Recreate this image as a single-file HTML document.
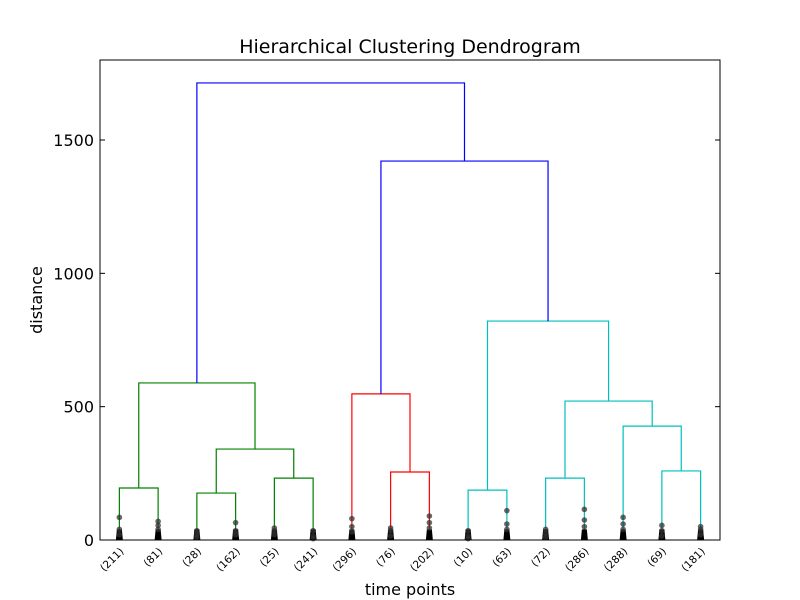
<!DOCTYPE html>
<html><head><meta charset="utf-8"><style>
body{margin:0;background:#fff;}
svg{display:block;font-family:"DejaVu Sans","Liberation Sans",sans-serif;}
</style></head><body>
<svg id="chart" width="800" height="600" viewBox="0 0 800 600">
<rect x="0" y="0" width="800" height="600" fill="#fff"/>
<text x="410" y="53" text-anchor="middle" font-size="19">Hierarchical Clustering Dendrogram</text>
<g id="marks"></g>
<rect x="100" y="60" width="620" height="480" fill="none" stroke="#000" stroke-width="1"/>
<g id="axes"></g>
<text x="410" y="595" text-anchor="middle" font-size="16">time points</text>
<text transform="translate(42,300) rotate(-90)" text-anchor="middle" font-size="16">distance</text>
</svg>
<script>
const leafLabels=["(211)","(81)","(28)","(162)","(25)","(241)","(296)","(76)","(202)","(10)","(63)","(72)","(286)","(288)","(69)","(181)"];
const leafDots=[[85,40,20],[70,55,40],[35,20,10],[65,35,20],[45,35,20],[35,15,5],[80,50,30],[45,35,15],[90,65,45],[35,15,5],[110,60,40],[40,25,10],[115,75,50],[85,60,40],[55,35,15],[50,40,20]];
// merges: [leftNode, rightNode, height, color]; nodes 0-15 leaves, 16+k merges
const mergeLeft=[0,2,4,17,16,7,6,9,11,14,13,24,23,22,20];
const mergeRight=[1,3,5,18,19,8,21,10,12,15,25,26,27,28,29];
const mergeHeight=[195,176,232,341,589,255,548,187,232,259,427,521,821,1421,1714];
const mergeColor=["g","g","g","g","g","r","r","c","c","c","c","c","c","b","b"];
const yTicks=[0,500,1000,1500];
const colors={g:"#008000",r:"#ff0000",c:"#00bfbf",b:"#0000ff"};
const X0=100,W=620,Y0=540,H=480,YMAX=1800;
const xs=i=>X0+(i+0.5)*W/leafLabels.length;
const ys=v=>Y0-v/YMAX*H;
const NS="http://www.w3.org/2000/svg";
const marks=document.getElementById('marks'),axes=document.getElementById('axes');
function mk(t,a,p){const e=document.createElementNS(NS,t);for(const k in a)e.setAttribute(k,a[k]);p.appendChild(e);return e;}
const nx=[],ny=[];
leafLabels.forEach((l,i)=>{nx[i]=xs(i);ny[i]=0;});
mergeLeft.forEach((l,k)=>{
  const r=mergeRight[k],h=mergeHeight[k];
  const p=mk('polyline',{points:`${nx[l]},${ys(ny[l])} ${nx[l]},${ys(h)} ${nx[r]},${ys(h)} ${nx[r]},${ys(ny[r])}`,fill:'none',stroke:colors[mergeColor[k]],'stroke-width':1.2},marks);
  
  
  nx[16+k]=(nx[l]+nx[r])/2;ny[16+k]=h;
});
leafLabels.forEach((l,i)=>{
  const x=xs(i);
  const g=mk('g',{},marks);
  
  
  mk('path',{d:`M${x-3.5},${Y0} L${x-2.5},${ys(40)} L${x+2.5},${ys(40)} L${x+3.5},${Y0}Z`,fill:'#000'},g);
  leafDots[i].forEach(v=>mk('circle',{cx:x,cy:ys(v),r:2.8,fill:'#333','fill-opacity':0.75},g));
  const t=mk('text',{transform:`translate(${x+5},${Y0+12}) rotate(-45)`,'text-anchor':'end','font-size':10.5},axes);
  t.textContent=l;
  
  
});
yTicks.forEach(v=>{
  const y=ys(v);
  mk('line',{x1:X0,x2:X0+5,y1:y,y2:y,stroke:'#000'},axes);
  mk('line',{x1:X0+W-5,x2:X0+W,y1:y,y2:y,stroke:'#000'},axes);
  const t=mk('text',{x:X0-6,y:y+6,'text-anchor':'end','font-size':16},axes);
  t.textContent=v;
  
  
});
</script>
</body></html>
